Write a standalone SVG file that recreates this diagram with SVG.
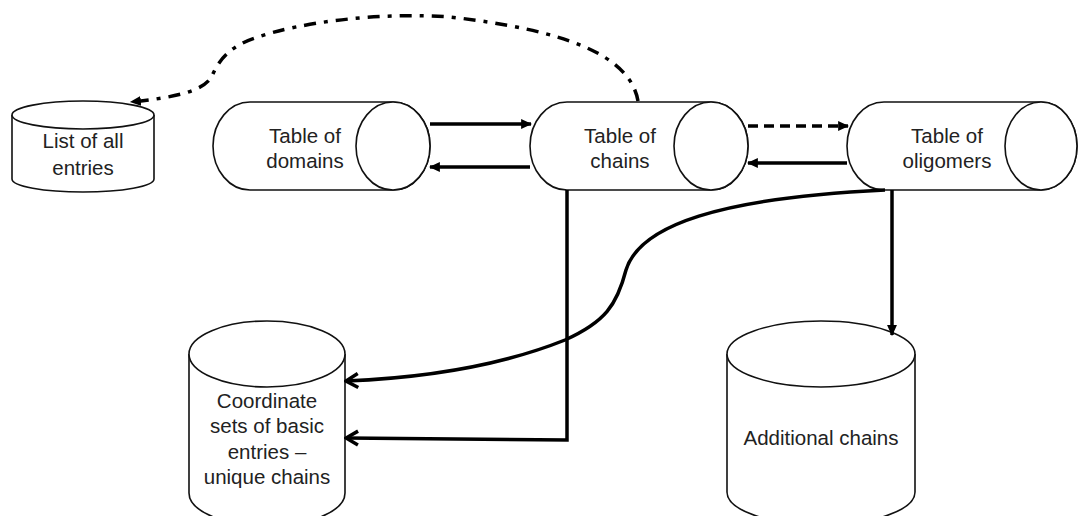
<svg xmlns="http://www.w3.org/2000/svg" width="1078" height="516" viewBox="0 0 1078 516">
<defs>
<style>
.shape{fill:#fff;stroke:#111;stroke-width:1.6}
.lbl{font-family:"Liberation Sans",Arial,sans-serif;font-size:20.5px;fill:#222;text-anchor:middle}
.con{fill:none;stroke:#000;stroke-width:3.5}
</style>
<marker id="tri" viewBox="0 0 10 10" refX="9" refY="5" markerWidth="11" markerHeight="11" markerUnits="userSpaceOnUse" orient="auto">
<path d="M0,0.5 L10,5 L0,9.5 z" fill="#000"/>
</marker>
<marker id="chev" viewBox="0 0 16 18" refX="14" refY="9" markerWidth="16" markerHeight="18" markerUnits="userSpaceOnUse" orient="auto">
<path d="M2,2 L14,9 L2,16" fill="none" stroke="#000" stroke-width="3.5"/>
</marker>
</defs>
<rect width="1078" height="516" fill="#fff"/>

<g id="list-of-all-entries">
<path class="shape" d="M12,115 L12,179 A71,13 0 0 0 154,179 L154,115"/>
<ellipse class="shape" cx="83" cy="115" rx="71" ry="14"/>
<text class="lbl" x="83" y="148">List of all</text>
<text class="lbl" x="83" y="175">entries</text>
</g>

<g id="table-of-domains">
<path class="shape" d="M250,102 L393,102 A37,44 0 0 1 393,190 L250,190 A37,44 0 0 1 250,102 Z"/>
<ellipse class="shape" cx="393" cy="146" rx="37" ry="44"/>
<text class="lbl" x="305" y="143">Table of</text>
<text class="lbl" x="305" y="168">domains</text>
</g>

<g id="table-of-chains">
<path class="shape" d="M567,102 L711,102 A37,44 0 0 1 711,190 L567,190 A37,44 0 0 1 567,102 Z"/>
<ellipse class="shape" cx="711" cy="146" rx="37" ry="44"/>
<text class="lbl" x="620" y="143">Table of</text>
<text class="lbl" x="620" y="168">chains</text>
</g>

<g id="table-of-oligomers">
<path class="shape" d="M884,102 L1041,102 A36,44 0 0 1 1041,190 L884,190 A37,44 0 0 1 884,102 Z"/>
<ellipse class="shape" cx="1041" cy="146" rx="36" ry="44"/>
<text class="lbl" x="947" y="143">Table of</text>
<text class="lbl" x="947" y="168">oligomers</text>
</g>

<g id="coordinate-sets">
<path class="shape" d="M189,354 L189,493 A78,33 0 0 0 345,493 L345,354"/>
<ellipse class="shape" cx="267" cy="354" rx="78" ry="33"/>
<text class="lbl" x="267" y="408">Coordinate</text>
<text class="lbl" x="267" y="433">sets of basic</text>
<text class="lbl" x="267" y="459">entries –</text>
<text class="lbl" x="267" y="484">unique chains</text>
</g>

<g id="additional-chains">
<path class="shape" d="M727,354 L727,492 A94,33 0 0 0 915,492 L915,354"/>
<ellipse class="shape" cx="821" cy="354" rx="94" ry="33"/>
<text class="lbl" x="821" y="445">Additional chains</text>
</g>

<g id="connectors">
<path class="con" d="M430,124 L531,124" marker-end="url(#tri)"/>
<path class="con" d="M530,167 L430,167" marker-end="url(#tri)"/>
<path class="con" d="M748,126 L848,126" stroke-dasharray="10 6" marker-end="url(#tri)"/>
<path class="con" d="M847,163 L748,163" marker-end="url(#tri)"/>
<path class="con" d="M638,101 C630,55 565,30 450,17 C380,12 300,22 255,38 C228,47 218,62 212,76 C204,92 170,98 131,102" stroke-width="4" stroke-dasharray="12 8 4 8" marker-end="url(#tri)"/>
<path class="con" d="M567,190 L567,440 L346,438" marker-end="url(#chev)"/>
<path class="con" d="M885,190 C720,198 640,225 626,270 C617,305 605,322 565,340 C495,368 420,378 346,381" marker-end="url(#chev)"/>
<path class="con" d="M892,190 L892,335" marker-end="url(#tri)"/>
</g>
</svg>
